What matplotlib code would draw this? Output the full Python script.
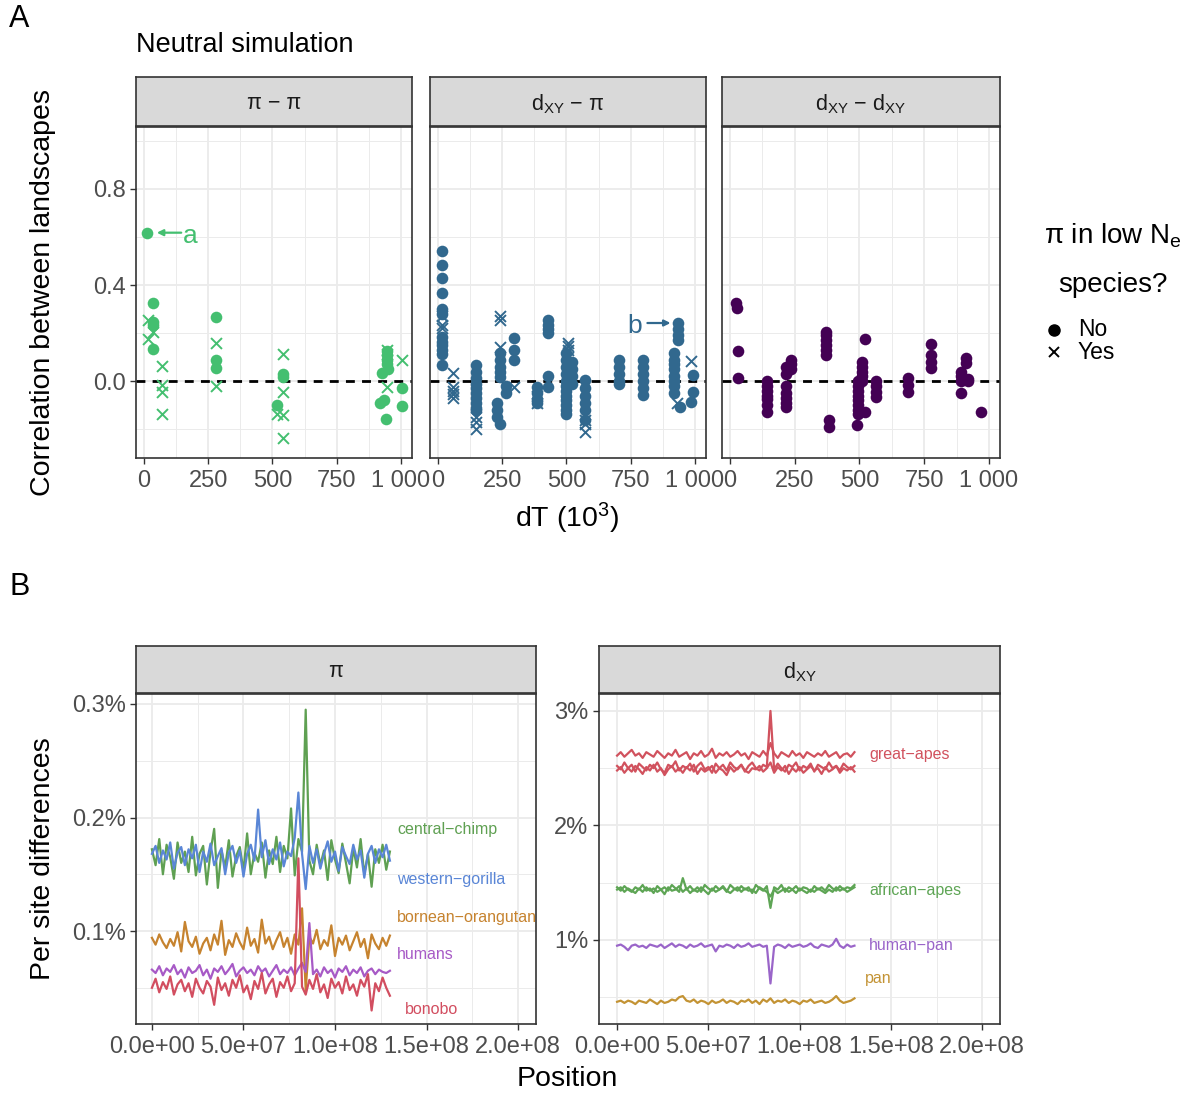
import numpy as np
import matplotlib.pyplot as plt
from matplotlib.lines import Line2D
from matplotlib.ticker import FixedLocator, FuncFormatter

plt.rcParams['font.family'] = ['Liberation Sans', 'DejaVu Sans']
plt.rcParams['mathtext.fontset'] = 'custom'
plt.rcParams['mathtext.rm'] = 'Liberation Sans'
plt.rcParams['mathtext.it'] = 'Liberation Sans:italic'

# ---- A: correlation between landscapes (dT in 10^3 generations) ----
# pi - pi
pp_dt = [13, 34, 36, 34, 36, 280, 280, 280, 540, 540, 516, 945, 945, 945, 945, 925, 918, 935, 1003, 1003, 940, 948,
         17, 17, 34, 71, 71, 71, 71, 280, 280, 540, 540, 516, 540, 540, 945, 1003, 945, 945]
pp_cor = [0.618, 0.326, 0.245, 0.235, 0.132, 0.268, 0.088, 0.055, 0.03, 0.018, -0.1, 0.125, 0.11, 0.09, 0.07, 0.035,
          -0.09, -0.08, -0.027, -0.104, -0.158, 0.05,
          0.254, 0.174, 0.205, 0.062, -0.017, -0.044, -0.135, 0.157, -0.02, 0.115, -0.044, -0.135, -0.142, -0.235,
          0.13, 0.088, -0.024, 0.115]
pp_low = [0] * 22 + [1] * 18

# dXY - pi
dp_dt = [16] * 12 + [16] * 3 + [58] * 5 + [147] * 10 + [147] * 3 + [243] * 3 + [243] * 5 + [294] * 3 + [263] * 2 + [294]
dp_dt += [230] * 3 + [243] + [384] * 4 + [384] * 2 + [427] * 6 + [507] * 4 + [500] * 12 + [520] * 4 + [571] * 6 + [571] * 3
dp_dt += [705] * 5 + [796] * 6 + [933] * 4 + [920] * 8 + [940, 984, 994, 994, 984, 930]
dp_cor = [0.543, 0.483, 0.43, 0.368, 0.30, 0.28, 0.185, 0.165, 0.15, 0.13, 0.115, 0.067,
          0.27, 0.233, 0.22,
          0.033, -0.024, -0.04, -0.055, -0.07,
          0.067, 0.04, 0.015, -0.01, -0.03, -0.05, -0.07, -0.09, -0.11, -0.12,
          -0.15, -0.17, -0.2,
          0.27, 0.255, 0.143,
          0.117, 0.09, 0.06, 0.04, 0.017,
          0.178, 0.13, 0.09,
          -0.02, -0.05,
          -0.024,
          -0.09, -0.12, -0.15,
          -0.18,
          -0.024, -0.05, -0.075, -0.093,
          -0.093, -0.06,
          0.022, -0.024, 0.254, 0.235, 0.215, 0.2,
          0.16, 0.145, 0.13, 0.10,
          0.117, 0.09, 0.06, 0.03, 0.0, -0.02, -0.04, -0.06, -0.08, -0.1, -0.12, -0.135,
          0.08, 0.05, 0.02, -0.01,
          0.004, -0.03, -0.06, -0.09, -0.12, -0.16,
          -0.16, -0.18, -0.21,
          0.087, 0.06, 0.03, 0.0, -0.01,
          0.087, 0.06, 0.03, 0.0, -0.03, -0.058,
          0.24, 0.215, 0.19, 0.17,
          0.117, 0.09, 0.07, 0.05, 0.02, 0.0, -0.02, -0.05,
          -0.107, -0.086, 0.025, -0.044, 0.083, -0.09]
dp_low = ([0] * 12 + [1] * 3 + [1] * 5 + [0] * 10 + [1] * 3 + [1] * 3 + [0] * 5 + [0] * 3 + [0] * 2 + [1]
          + [0] * 3 + [0] + [0] * 4 + [1] * 2 + [0] * 6 + [1] * 4 + [0] * 12 + [0] * 4 + [0] * 6 + [1] * 3
          + [0] * 5 + [0] * 6 + [0] * 4 + [0] * 8 + [0, 0, 0, 0, 1, 1])

# dXY - dXY
dd_dt = [22, 26, 30, 30] + [143] * 7 + [218] * 7 + [236] * 3 + [371] * 6 + [384] * 2 + [496] * 8 + [511] * 5
dd_dt += [523, 523, 490] + [565] * 4 + [687] * 3 + [778] * 4 + [912] * 2 + [893] * 4 + [920] * 2 + [969]
dd_cor = [0.324, 0.303, 0.125, 0.011,
          0.0, -0.02, -0.04, -0.06, -0.075, -0.1, -0.13,
          0.06, 0.03, -0.02, -0.05, -0.07, -0.09, -0.107,
          0.0875, 0.07, 0.05,
          0.205, 0.19, 0.17, 0.15, 0.13, 0.108,
          -0.163, -0.19,
          0.0, -0.02, -0.04, -0.06, -0.08, -0.1, -0.12, -0.135,
          0.08, 0.06, 0.04, 0.02, 0.0,
          0.174, -0.13, -0.183,
          0.0, -0.02, -0.045, -0.065,
          0.013, -0.015, -0.044,
          0.153, 0.11, 0.08, 0.053,
          0.096, 0.075,
          0.04, 0.02, 0.0, -0.05,
          0.01, 0.0,
          -0.13]

# ---- B: per site differences along the chromosome (percent) ----
pos = np.arange(66) * 2e6

chimp = [0.172, 0.158, 0.181, 0.150, 0.176, 0.165, 0.146, 0.178, 0.160, 0.170,
         0.152, 0.183, 0.149, 0.168, 0.175, 0.141, 0.170, 0.190, 0.138, 0.171,
         0.156, 0.180, 0.148, 0.166, 0.174, 0.153, 0.186, 0.150, 0.169, 0.161,
         0.178, 0.147, 0.171, 0.159, 0.183, 0.152, 0.175, 0.164, 0.208, 0.149,
         0.181, 0.170, 0.295, 0.162, 0.150, 0.176, 0.158, 0.171, 0.145, 0.180,
         0.163, 0.151, 0.177, 0.160, 0.142, 0.173, 0.156, 0.181, 0.150, 0.168,
         0.139, 0.172, 0.160, 0.176, 0.154, 0.170]
gorilla = [0.168, 0.175, 0.160, 0.171, 0.163, 0.178, 0.155, 0.169, 0.174, 0.158,
           0.172, 0.164, 0.176, 0.152, 0.170, 0.161, 0.177, 0.158, 0.166, 0.173,
           0.150, 0.169, 0.175, 0.160, 0.171, 0.148, 0.168, 0.176, 0.162, 0.207,
           0.165, 0.180, 0.159, 0.172, 0.163, 0.178, 0.157, 0.170, 0.166, 0.182,
           0.222, 0.168, 0.137, 0.175, 0.160, 0.172, 0.155, 0.168, 0.179, 0.161,
           0.170, 0.153, 0.174, 0.166, 0.159, 0.176, 0.163, 0.171, 0.147, 0.168,
           0.175, 0.160, 0.172, 0.165, 0.176, 0.162]
orang = [0.094, 0.088, 0.097, 0.090, 0.085, 0.093, 0.087, 0.099, 0.082, 0.108,
         0.091, 0.086, 0.095, 0.080, 0.089, 0.094, 0.083, 0.097, 0.088, 0.109,
         0.079, 0.092, 0.086, 0.098, 0.090, 0.084, 0.103, 0.087, 0.093, 0.081,
         0.110, 0.089, 0.095, 0.084, 0.092, 0.099, 0.086, 0.094, 0.080, 0.097,
         0.088, 0.120, 0.048, 0.095, 0.089, 0.101, 0.084, 0.092, 0.087, 0.105,
         0.078, 0.094, 0.088, 0.096, 0.083, 0.091, 0.099, 0.086, 0.093, 0.076,
         0.097, 0.089, 0.084, 0.094, 0.087, 0.096]
humans = [0.066, 0.063, 0.069, 0.061, 0.067, 0.064, 0.070, 0.062, 0.066, 0.059,
          0.068, 0.063, 0.065, 0.070, 0.061, 0.066, 0.058, 0.067, 0.064, 0.069,
          0.062, 0.066, 0.071, 0.060, 0.065, 0.068, 0.063, 0.066, 0.061, 0.069,
          0.064, 0.067, 0.060, 0.065, 0.070, 0.062, 0.066, 0.063, 0.068, 0.061,
          0.067, 0.072, 0.064, 0.107, 0.062, 0.066, 0.060, 0.068, 0.063, 0.066,
          0.059, 0.067, 0.064, 0.069, 0.061, 0.066, 0.063, 0.068, 0.060, 0.065,
          0.067, 0.062, 0.066, 0.064, 0.063, 0.065]
bonobo = [0.050, 0.058, 0.046, 0.055, 0.049, 0.060, 0.044, 0.053, 0.057, 0.047,
          0.054, 0.042, 0.058, 0.050, 0.045, 0.056, 0.051, 0.035, 0.059, 0.048,
          0.054, 0.043, 0.057, 0.050, 0.061, 0.046, 0.052, 0.040, 0.056, 0.049,
          0.063, 0.045, 0.053, 0.058, 0.042, 0.055, 0.050, 0.060, 0.047, 0.054,
          0.164, 0.051, 0.044, 0.057, 0.049, 0.062, 0.046, 0.053, 0.041, 0.058,
          0.050, 0.055, 0.045, 0.060, 0.048, 0.053, 0.043, 0.057, 0.051, 0.062,
          0.030, 0.054, 0.047, 0.059, 0.050, 0.043]

ga1 = [2.61, 2.64, 2.60, 2.63, 2.66, 2.61, 2.63, 2.59, 2.64, 2.62,
       2.60, 2.65, 2.62, 2.59, 2.63, 2.61, 2.66, 2.60, 2.62, 2.64,
       2.58, 2.63, 2.61, 2.65, 2.60, 2.62, 2.67, 2.59, 2.63, 2.61,
       2.64, 2.60, 2.62, 2.65, 2.61, 2.63, 2.58, 2.64, 2.62, 2.60,
       2.65, 2.61, 2.72, 2.63, 2.59, 2.64, 2.62, 2.60, 2.65, 2.61,
       2.63, 2.59, 2.64, 2.62, 2.60, 2.63, 2.61, 2.65, 2.60, 2.62,
       2.64, 2.59, 2.62, 2.63, 2.60, 2.64]
ga2 = [2.52, 2.49, 2.55, 2.50, 2.53, 2.47, 2.54, 2.51, 2.48, 2.53,
       2.50, 2.55, 2.49, 2.46, 2.53, 2.51, 2.56, 2.48, 2.52, 2.50,
       2.54, 2.47, 2.52, 2.55, 2.49, 2.51, 2.46, 2.54, 2.50, 2.53,
       2.48, 2.55, 2.51, 2.49, 2.53, 2.47, 2.52, 2.55, 2.50, 2.48,
       2.53, 2.51, 3.00, 2.49, 2.54, 2.50, 2.47, 2.53, 2.51, 2.55,
       2.48, 2.52, 2.50, 2.54, 2.47, 2.53, 2.51, 2.49, 2.55, 2.50,
       2.52, 2.48, 2.54, 2.51, 2.49, 2.52]
ga3 = [2.48, 2.51, 2.46, 2.50, 2.47, 2.52, 2.49, 2.45, 2.51, 2.48,
       2.53, 2.47, 2.50, 2.44, 2.49, 2.52, 2.47, 2.50, 2.46, 2.51,
       2.48, 2.53, 2.45, 2.50, 2.47, 2.49, 2.52, 2.46, 2.50, 2.48,
       2.44, 2.51, 2.47, 2.50, 2.53, 2.48, 2.46, 2.50, 2.49, 2.52,
       2.47, 2.50, 2.55, 2.46, 2.51, 2.48, 2.52, 2.45, 2.50, 2.47,
       2.51, 2.46, 2.49, 2.52, 2.48, 2.50, 2.45, 2.51, 2.47, 2.49,
       2.52, 2.46, 2.50, 2.48, 2.51, 2.47]
aa1 = [1.46, 1.43, 1.47, 1.44, 1.42, 1.46, 1.44, 1.48, 1.43, 1.45,
       1.41, 1.47, 1.44, 1.46, 1.43, 1.48, 1.45, 1.42, 1.54, 1.44,
       1.47, 1.43, 1.46, 1.42, 1.48, 1.45, 1.43, 1.47, 1.44, 1.46,
       1.42, 1.48, 1.45, 1.43, 1.47, 1.44, 1.46, 1.41, 1.48, 1.45,
       1.43, 1.47, 1.28, 1.46, 1.44, 1.48, 1.42, 1.46, 1.44, 1.47,
       1.43, 1.46, 1.45, 1.42, 1.47, 1.44, 1.46, 1.43, 1.48, 1.45,
       1.43, 1.47, 1.44, 1.46, 1.45, 1.48]
aa2 = [1.44, 1.46, 1.42, 1.45, 1.43, 1.41, 1.45, 1.42, 1.46, 1.43,
       1.45, 1.42, 1.44, 1.40, 1.46, 1.43, 1.44, 1.47, 1.42, 1.45,
       1.41, 1.44, 1.42, 1.46, 1.43, 1.40, 1.45, 1.42, 1.44, 1.47,
       1.43, 1.41, 1.44, 1.46, 1.42, 1.45, 1.43, 1.44, 1.41, 1.46,
       1.44, 1.42, 1.38, 1.44, 1.41, 1.43, 1.45, 1.42, 1.44, 1.41,
       1.45, 1.43, 1.41, 1.44, 1.42, 1.45, 1.43, 1.41, 1.44, 1.42,
       1.46, 1.43, 1.45, 1.42, 1.44, 1.46]
hp = [0.95, 0.96, 0.94, 0.91, 0.95, 0.96, 0.94, 0.95, 0.93, 0.96,
      0.95, 0.94, 0.96, 0.93, 0.95, 0.97, 0.94, 0.96, 0.95, 0.93,
      0.96, 0.94, 0.95, 0.97, 0.94, 0.95, 0.96, 0.90, 0.95, 0.94,
      0.96, 0.95, 0.93, 0.96, 0.94, 0.95, 0.97, 0.94, 0.95, 0.96,
      0.94, 0.95, 0.62, 0.94, 0.96, 0.95, 0.93, 0.96, 0.94, 0.95,
      0.96, 0.94, 0.95, 0.97, 0.94, 0.93, 0.96, 0.95, 0.94, 0.96,
      1.01, 0.95, 0.93, 0.96, 0.94, 0.95]
pan = [0.46, 0.47, 0.45, 0.47, 0.46, 0.44, 0.47, 0.46, 0.45, 0.48,
       0.46, 0.44, 0.47, 0.45, 0.46, 0.48, 0.47, 0.50, 0.51, 0.47,
       0.46, 0.48, 0.45, 0.47, 0.46, 0.44, 0.47, 0.45, 0.46, 0.48,
       0.45, 0.47, 0.46, 0.44, 0.47, 0.46, 0.48, 0.45, 0.47, 0.44,
       0.48, 0.46, 0.49, 0.45, 0.47, 0.46, 0.48, 0.45, 0.47, 0.46,
       0.44, 0.47, 0.46, 0.48, 0.45, 0.46, 0.47, 0.45, 0.46, 0.48,
       0.51, 0.47, 0.45, 0.46, 0.47, 0.49]

W, H = 1190, 1093
fig = plt.figure(figsize=(W / 100, H / 100), dpi=100)

TICK = 17
TITLE = 20.5


def box(x0, y0, x1, y1):
    # axes placed in pixel coords (top-left origin)
    return fig.add_axes([x0 / W, 1 - y1 / H, (x1 - x0) / W, (y1 - y0) / H])


def strip(x0, y0, x1, y1, label):
    s = box(x0, y0, x1, y1)
    s.set_facecolor('#D9D9D9')
    s.set_xticks([])
    s.set_yticks([])
    for sp in s.spines.values():
        sp.set_color('#333333')
        sp.set_linewidth(1.2)
    s.text(0.5, 0.45, label, ha='center', va='center', fontsize=15.5, color='#1A1A1A', transform=s.transAxes)


def bw(ax, xmaj, xmin, ymaj, ymin):
    ax.xaxis.set_major_locator(FixedLocator(xmaj))
    ax.xaxis.set_minor_locator(FixedLocator(xmin))
    ax.yaxis.set_major_locator(FixedLocator(ymaj))
    ax.yaxis.set_minor_locator(FixedLocator(ymin))
    ax.grid(which='major', color='#EBEBEB', lw=1.3)
    ax.grid(which='minor', color='#EBEBEB', lw=0.7)
    ax.set_axisbelow(True)
    for sp in ax.spines.values():
        sp.set_color('#333333')
        sp.set_linewidth(1.2)
    ax.tick_params(which='major', length=4, width=1, color='#333333', labelsize=TICK, labelcolor='#4D4D4D')
    ax.tick_params(axis='x', which='major', pad=4.5)
    ax.tick_params(axis='y', which='major', pad=3.5)
    ax.tick_params(which='minor', length=0)


def thousands(v, p):
    v = int(round(v))
    return '1 000' if v == 1000 else str(v)


facets = [(136, 412, pp_dt, pp_cor, pp_low, '#44BF70', 'π − π'),
          (430, 706, dp_dt, dp_cor, dp_low, '#31688E', r'd$_{\mathregular{XY}}$ − π'),
          (722, 1000, dd_dt, dd_cor, [0] * len(dd_dt), '#440154', r'd$_{\mathregular{XY}}$ − d$_{\mathregular{XY}}$')]

axA = []
for i, (x0, x1, dt, cor, low, col, lab) in enumerate(facets):
    ax = box(x0, 127, x1, 458)
    strip(x0, 77, x1, 126, lab)
    dt = np.array(dt)
    cor = np.array(cor)
    low = np.array(low, dtype=bool)
    ax.axhline(0, color='black', lw=2, ls=(0, (3.2, 2.6)), zorder=1)
    ax.scatter(dt[~low], cor[~low], s=70, color=col, marker='o', lw=0, zorder=3)
    ax.scatter(dt[low], cor[low], s=62, color=col, marker='x', lw=1.4, zorder=3)
    ax.set_xlim(-31, 1043)
    ax.set_ylim(-0.32, 1.058)
    bw(ax, [0, 250, 500, 750, 1000], [125, 375, 625, 875], [0.0, 0.4, 0.8], [-0.2, 0.2, 0.6, 1.0])
    ax.xaxis.set_major_formatter(FuncFormatter(thousands))
    if i == 0:
        ax.yaxis.set_major_formatter(FuncFormatter(lambda v, p: '%.1f' % v))
    else:
        ax.tick_params(axis='y', which='both', left=False, labelleft=False)
    axA.append(ax)

# arrows to the highlighted examples
axA[0].annotate('', xy=(50, 0.618), xytext=(145, 0.618),
                arrowprops=dict(arrowstyle='-|>', color='#44BF70', lw=1.6, mutation_scale=9, shrinkA=0, shrinkB=0))
axA[0].text(180, 0.605, 'a', color='#44BF70', fontsize=19, ha='center', va='center')
axA[1].annotate('', xy=(905, 0.242), xytext=(815, 0.242),
                arrowprops=dict(arrowstyle='-|>', color='#31688E', lw=1.6, mutation_scale=9, shrinkA=0, shrinkB=0))
axA[1].text(765, 0.229, 'b', color='#31688E', fontsize=19, ha='center', va='center')

fig.text(9 / W, 1 - 19 / H, 'A', fontsize=22, ha='left', va='center')
fig.text(136 / W, 1 - 45 / H, 'Neutral simulation', fontsize=19.5, ha='left', va='center')
fig.text(43 / W, 1 - 292 / H, 'Correlation between landscapes', fontsize=TITLE, rotation=90, ha='center', va='center')
fig.text(567 / W, 1 - 518 / H, r'dT (10$^{\mathregular{3}}$)', fontsize=TITLE, ha='center', va='center')

# legend for the marker shapes
fig.text(1113 / W, 1 - 236 / H, r'π in low N$_{\mathregular{e}}$', fontsize=20, ha='center', va='center')
fig.text(1113 / W, 1 - 285 / H, 'species?', fontsize=20, ha='center', va='center')
fig.add_artist(Line2D([1054 / W], [1 - 330 / H], marker='o', ms=8, color='black', lw=0, transform=fig.transFigure))
fig.add_artist(Line2D([1054 / W], [1 - 352 / H], marker='x', ms=7.5, mew=1.4, color='black', lw=0,
                      transform=fig.transFigure))
fig.text(1078 / W, 1 - 330 / H, 'No', fontsize=16.5, ha='left', va='center')
fig.text(1078 / W, 1 - 352 / H, 'Yes', fontsize=16.5, ha='left', va='center')

# ---- panel B ----
fig.text(9 / W, 1 - 587 / H, 'B', fontsize=22, ha='left', va='center')

xmaj = [0, 5e7, 1e8, 1.5e8, 2e8]
xmin = [2.5e7, 7.5e7, 1.25e8, 1.75e8]
sci = FuncFormatter(lambda v, p: '%.1e' % v)

axL = box(136, 694, 536, 1024)
strip(136, 646, 536, 693, 'π')
pi_series = [(chimp, '#5FA052', 'central−chimp', 1.34e8, 0.189),
             (gorilla, '#5A86D6', 'western−gorilla', 1.34e8, 0.145),
             (orang, '#C6832F', 'bornean−orangutan', 1.34e8, 0.1115),
             (humans, '#A75AC6', 'humans', 1.34e8, 0.079),
             (bonobo, '#D24E60', 'bonobo', 1.382e8, 0.0313)]
for vals, col, name, lx, ly in pi_series:
    axL.plot(pos, vals, color=col, lw=1.6)
    axL.text(lx, ly, name, color=col, fontsize=11.5, ha='left', va='center', clip_on=True)
axL.set_xlim(-8.7e6, 2.098e8)
axL.set_ylim(0.0181, 0.3088)
bw(axL, xmaj, xmin, [0.1, 0.2, 0.3], [0.05, 0.15, 0.25])
axL.xaxis.set_major_formatter(sci)
axL.yaxis.set_major_formatter(FuncFormatter(lambda v, p: '%.1f%%' % v))

axR = box(599, 694, 1000, 1024)
strip(599, 646, 1000, 693, r'd$_{\mathregular{XY}}$')
for vals in (ga1, ga2, ga3):
    axR.plot(pos, vals, color='#D1525E', lw=1.6)
for vals in (aa1, aa2):
    axR.plot(pos, vals, color='#5EA555', lw=1.6)
axR.plot(pos, hp, color='#9A65C9', lw=1.6)
axR.plot(pos, pan, color='#C39334', lw=1.6)
dxy_labels = [('great−apes', '#D1525E', 1.38e8, 2.624),
              ('african−apes', '#5EA555', 1.38e8, 1.428),
              ('human−pan', '#9A65C9', 1.38e8, 0.948),
              ('pan', '#C39334', 1.358e8, 0.659)]
for name, col, lx, ly in dxy_labels:
    axR.text(lx, ly, name, color=col, fontsize=11.5, ha='left', va='center', clip_on=True)
axR.set_xlim(-9.9e6, 2.097e8)
axR.set_ylim(0.266, 3.148)
bw(axR, xmaj, xmin, [1, 2, 3], [0.5, 1.5, 2.5])
axR.xaxis.set_major_formatter(sci)
axR.yaxis.set_major_formatter(FuncFormatter(lambda v, p: '%d%%' % v))

fig.text(43 / W, 1 - 859 / H, 'Per site differences', fontsize=TITLE, rotation=90, ha='center', va='center')
fig.text(567 / W, 1 - 1079 / H, 'Position', fontsize=TITLE, ha='center', va='center')

fig.savefig('out.png', dpi=100)
